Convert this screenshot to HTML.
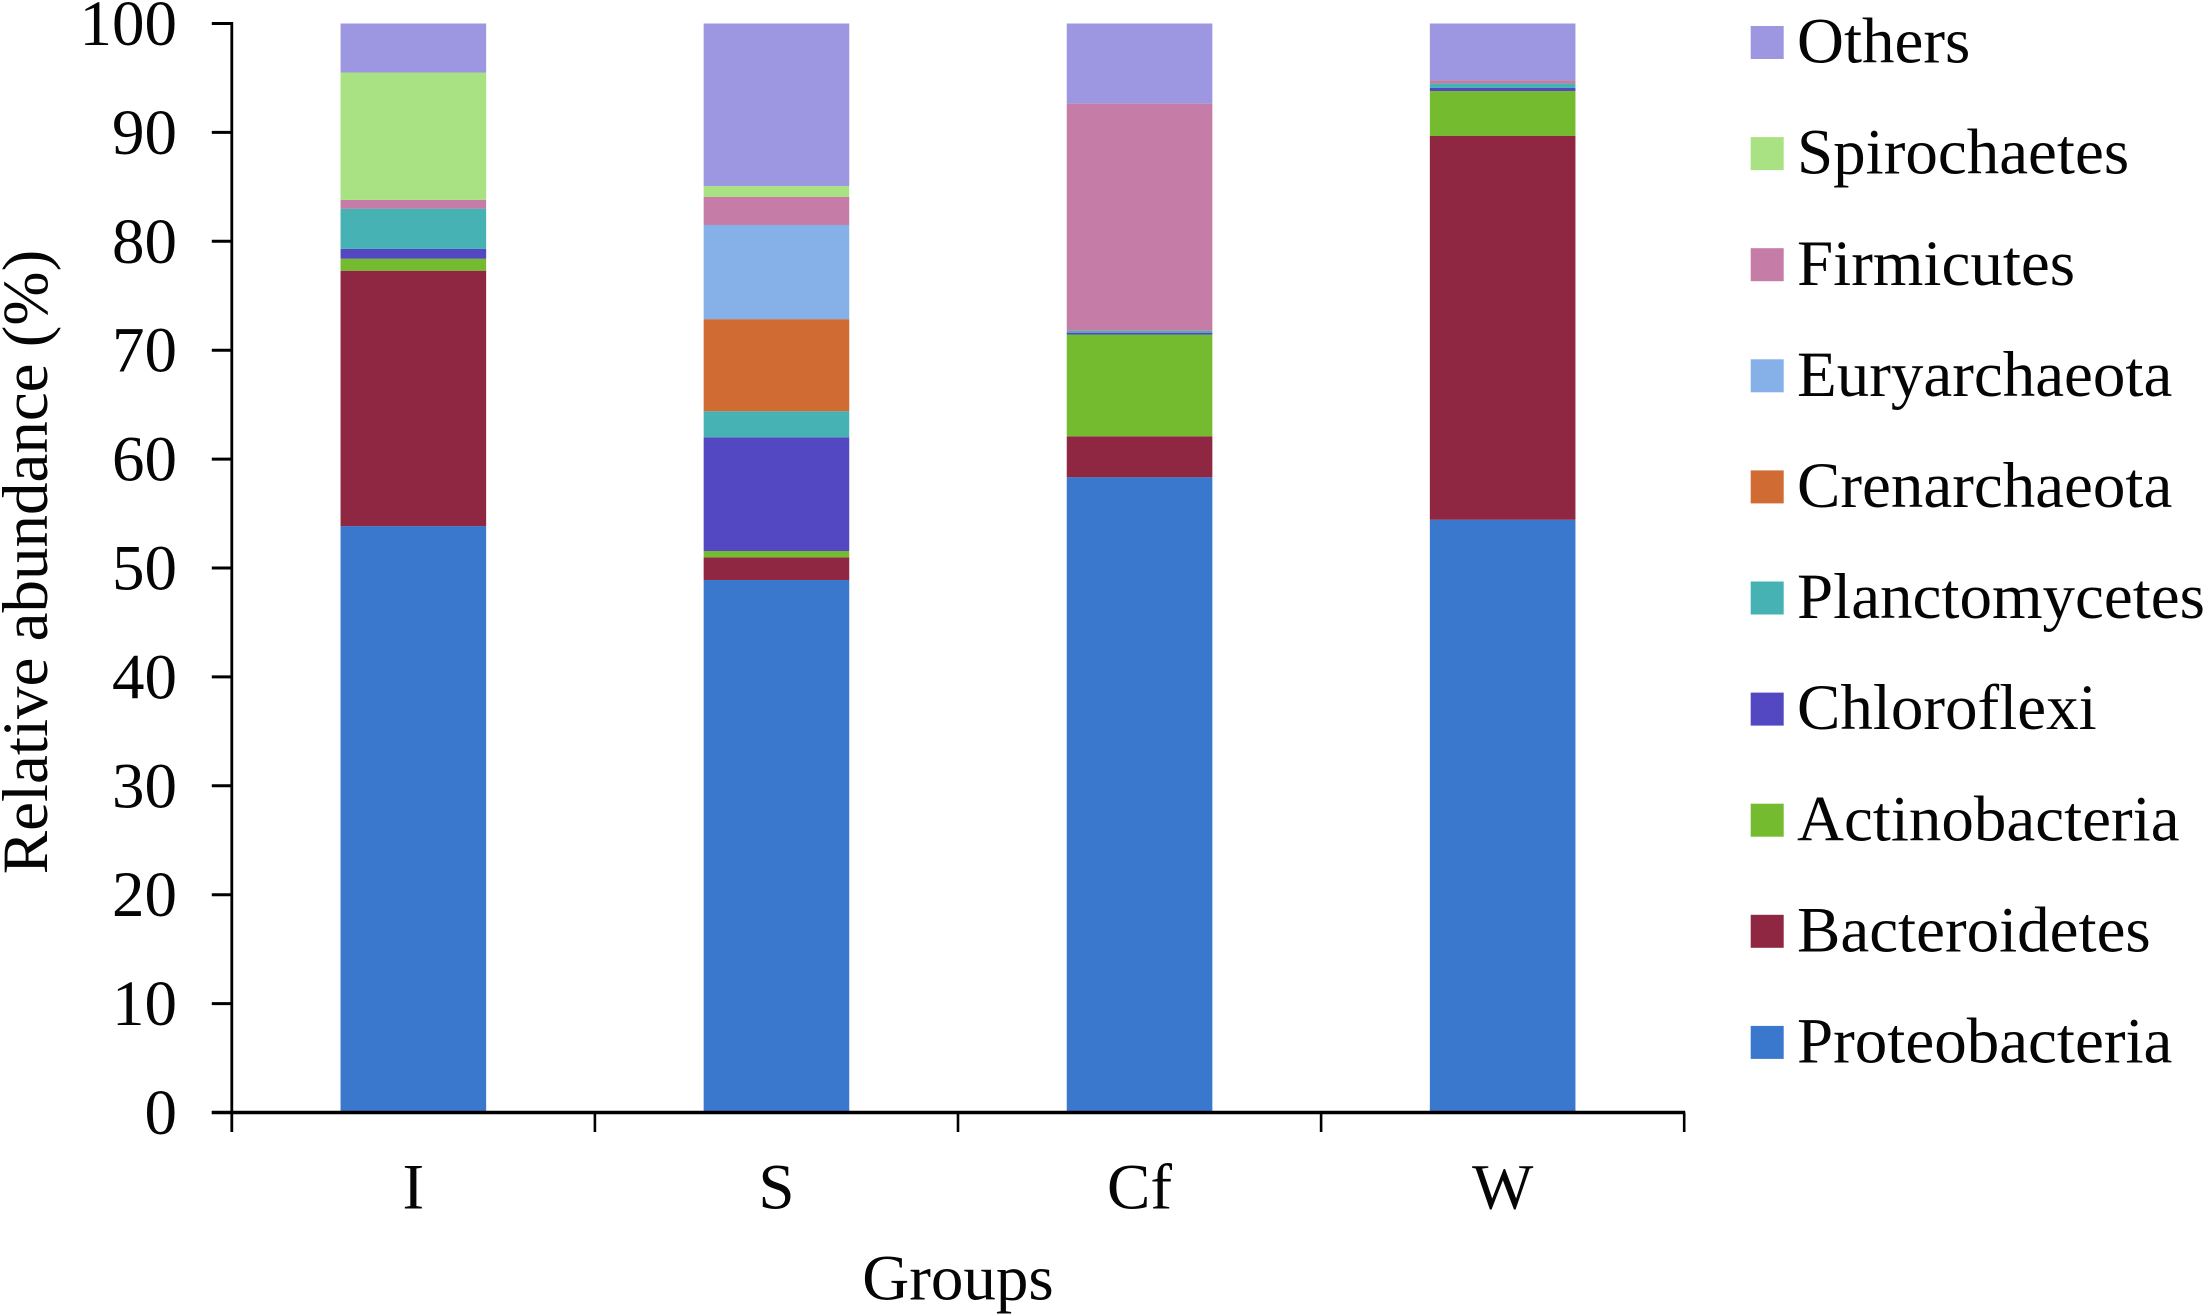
<!DOCTYPE html>
<html lang="en">
<head>
<meta charset="utf-8">
<title>Relative abundance by group</title>
<style>
  html, body { margin: 0; padding: 0; background: #fff; }
  #chart { display: block; width: 2204px; height: 1314px; }
  text { font-family: "Liberation Serif", "Times New Roman", serif; font-size: 65px; fill: #050505; }
</style>
</head>
<body>
<svg id="chart" xmlns="http://www.w3.org/2000/svg" width="2204" height="1314" viewBox="0 0 2204 1314">
  <g id="bars"></g>
  <g id="axes"></g>
  <g id="legend"></g>
  <text id="y-title" transform="translate(47,562) rotate(-90)" text-anchor="middle">Relative abundance (%)</text>
  <text id="x-title" x="958" y="1299.5" text-anchor="middle">Groups</text>
</svg>
<script>
const categories = ['I', 'S', 'Cf', 'W'];
const yTickLabels = [0, 10, 20, 30, 40, 50, 60, 70, 80, 90, 100];
const seriesNames = ['Proteobacteria', 'Bacteroidetes', 'Actinobacteria', 'Chloroflexi', 'Planctomycetes', 'Crenarchaeota', 'Euryarchaeota', 'Firmicutes', 'Spirochaetes', 'Others'];
const seriesColors = ['#3A78CD', '#8F2742', '#75BB30', '#5447C2', '#46B2B4', '#D06B34', '#85B1E8', '#C57CA6', '#A8E283', '#9C97E0'];
const proteobacteria = [53.85, 48.9, 58.33, 54.43];
const bacteroidetes = [23.45, 2.08, 3.76, 35.24];
const actinobacteria = [1.1, 0.58, 9.34, 4.13];
const chloroflexi = [0.9, 10.44, 0.18, 0.28];
const planctomycetes = [3.7, 2.4, 0.18, 0.42];
const crenarchaeota = [0, 8.45, 0, 0];
const euryarchaeota = [0, 8.65, 0, 0];
const firmicutes = [0.8, 2.57, 20.85, 0.3];
const spirochaetes = [11.7, 1.0, 0, 0];
const others = [4.5, 14.93, 7.36, 5.2];
const seriesValues = [proteobacteria, bacteroidetes, actinobacteria, chloroflexi, planctomycetes, crenarchaeota, euryarchaeota, firmicutes, spirochaetes, others];

const NS = 'http://www.w3.org/2000/svg';
const plotLeft = 231.8, plotBottom = 1112.5, plotTop = 23.5, bandWidth = 363.1, barWidth = 145.6;
const yMax = yTickLabels[yTickLabels.length - 1];

function yScale(v) { return plotBottom - (v / yMax) * (plotBottom - plotTop); }
function xBandStart(i) { return plotLeft + i * bandWidth; }
function xCenter(i) { return xBandStart(i) + bandWidth / 2; }
function slug(s) { return String(s).toLowerCase().replace(/[^a-z0-9]+/g, '-'); }
function make(tag, attrs, parent) {
  const el = document.createElementNS(NS, tag);
  for (const k in attrs) el.setAttribute(k, attrs[k]);
  parent.appendChild(el);
  return el;
}

const barsGroup = document.getElementById('bars');
const axesGroup = document.getElementById('axes');
const legendGroup = document.getElementById('legend');

categories.forEach(function (cat, c) {
  let cumulative = 0;
  seriesValues.forEach(function (vals, s) {
    const y0 = yScale(cumulative);
    cumulative += vals[c];
    const y1 = yScale(cumulative);
    const rect = make('rect', { x: xCenter(c) - barWidth / 2, y: y1, width: barWidth, height: Math.max(0, y0 - y1), fill: seriesColors[s] }, barsGroup);
    
    
  });
});

const yAxisLine = make('line', { x1: plotLeft, x2: plotLeft, y1: plotTop - 1.5, y2: plotBottom + 19.5, stroke: '#000', 'stroke-width': 2.8 }, axesGroup);



const xAxisLine = make('line', { x1: plotLeft - 20, x2: xBandStart(categories.length) + 1, y1: plotBottom, y2: plotBottom, stroke: '#000', 'stroke-width': 3.6 }, axesGroup);



yTickLabels.forEach(function (t) {
  const tick = make('line', { x1: plotLeft - 20, x2: plotLeft, y1: yScale(t), y2: yScale(t), stroke: '#000', 'stroke-width': 3 }, axesGroup);
  
  
  const label = make('text', { x: 177, y: yScale(t) + 21.5, 'text-anchor': 'end' }, axesGroup);
  label.textContent = t;
  
  
});

for (let i = 1; i <= categories.length; i++) {
  const tick = make('line', { x1: xBandStart(i), x2: xBandStart(i), y1: plotBottom, y2: plotBottom + 19.5, stroke: '#000', 'stroke-width': 2.6 }, axesGroup);
  
  
}

categories.forEach(function (cat, c) {
  const label = make('text', { x: xCenter(c), y: 1208.5, 'text-anchor': 'middle' }, axesGroup);
  label.textContent = cat;
  
  
});

seriesNames.forEach(function (name, s) {
  const row = seriesNames.length - 1 - s;
  const top = 26 + row * 111.1;
  const entry = make('g', {}, legendGroup);
  
  
  const swatch = make('rect', { x: 1750.7, y: top, width: 33, height: 33, fill: seriesColors[s] }, entry);
  
  
  const label = make('text', { x: 1797, y: top + 36.6 }, entry);
  label.textContent = name;
  
  
});
</script>
</body>
</html>
